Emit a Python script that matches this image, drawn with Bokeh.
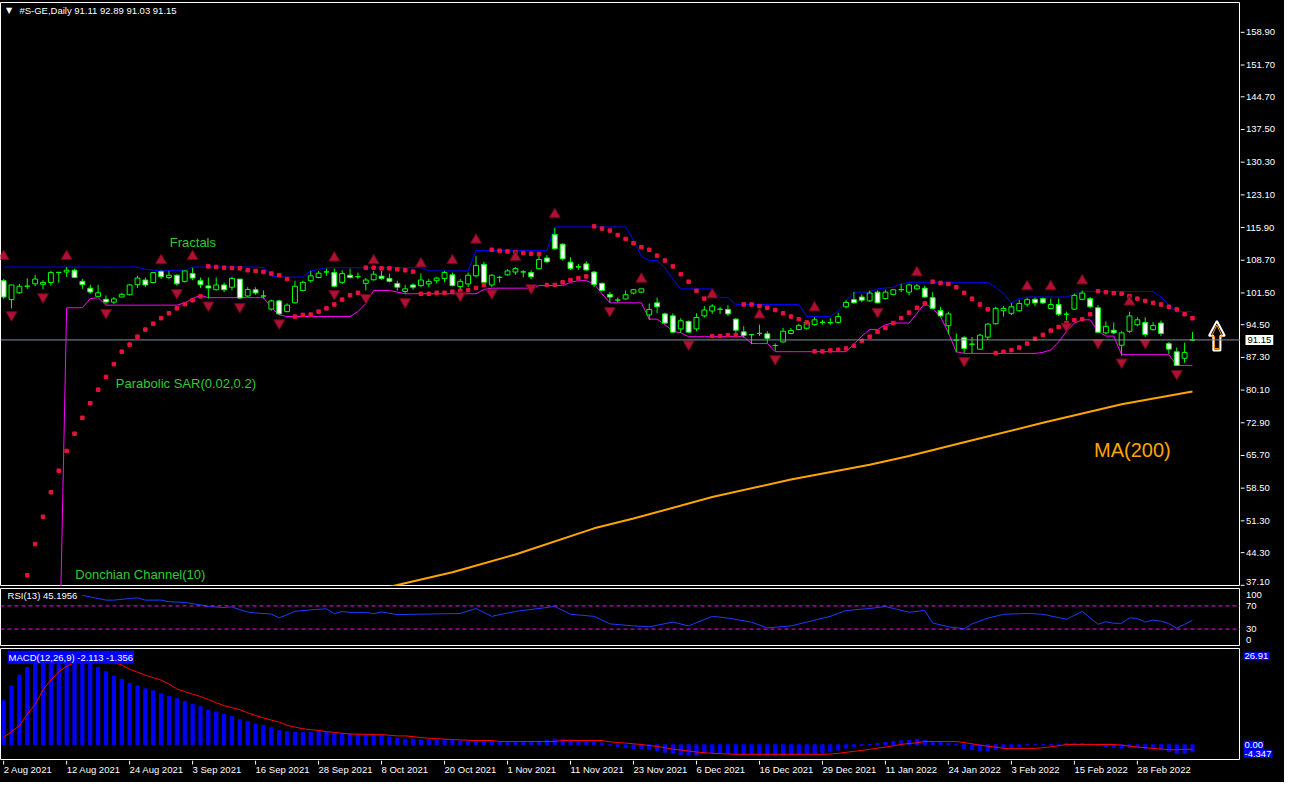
import numpy as np
from bokeh.plotting import figure
from bokeh.models import (ColumnDataSource, Range1d, Span, Label)
from bokeh.core.properties import value
from bokeh.layouts import column, row
from bokeh.embed import file_html
from bokeh.resources import INLINE

# ---------------- data ----------------
date_labels = ["2 Aug 2021", "12 Aug 2021", "24 Aug 2021", "3 Sep 2021", "16 Sep 2021",
               "28 Sep 2021", "8 Oct 2021", "20 Oct 2021", "1 Nov 2021", "11 Nov 2021",
               "23 Nov 2021", "6 Dec 2021", "16 Dec 2021", "29 Dec 2021", "11 Jan 2022",
               "24 Jan 2022", "3 Feb 2022", "15 Feb 2022", "28 Feb 2022"]
date_label_bars = [0, 8, 16, 24, 32, 40, 48, 56, 64, 72, 80, 88, 96, 104, 112, 120, 128, 136, 144]

price_ticks = [37.1, 44.3, 51.3, 58.5, 65.7, 72.9, 80.1, 87.3, 94.5, 101.5, 108.7,
               115.9, 123.1, 130.3, 137.5, 144.7, 151.7, 158.9]

opens = [104.2, 100.03, 101.54, 102.97, 103.5, 103.4, 103.8, 106.0, 106.1, 106.5,
         104.05, 102.55, 100.75, 100.1, 99.46, 100.6, 101.1, 103.33, 104.34, 103.8,
         106.2, 104.9, 105.4, 104.05, 105.77, 104.2, 103.05, 102.2, 103.26, 102.76,
         104.55, 100.82, 102.2, 100.8, 97.95, 99.75, 97.38, 99.32, 102.04, 104.2,
         104.9, 106.1, 105.99, 103.83, 105.4, 105.06, 103.6, 104.4, 105.2, 104.7,
         103.6, 101.83, 103.26, 103.12, 103.48, 104.2, 104.7, 105.48, 102.9, 103.48,
         105.27, 107.78, 103.26, 104.9, 105.48, 106.1, 106.1, 105.99, 106.85, 109.2,
         114.38, 112.23, 108.28, 107.28, 107.9, 106.1, 103.6, 101.18, 99.9, 100.18,
         101.47, 101.68, 96.66, 99.32, 96.88, 96.45, 93.58, 95.23, 93.58, 96.45,
         97.52, 97.88, 97.88, 95.73, 92.93, 92.3, 92.57, 92.5, 89.9, 90.71,
         92.57, 93.43, 93.72, 94.51, 95.01, 94.9, 95.01, 98.45, 100.03, 100.6,
         99.75, 101.68, 100.25, 101.18, 102.2, 101.68, 102.4, 102.55, 100.46, 97.6,
         94.28, 91.1, 91.63, 90.2, 89.12, 91.77, 94.71, 97.58, 97.01, 97.58,
         99.02, 100.1, 100.24, 98.09, 98.95, 96.8, 97.94, 100.1, 100.24, 98.23,
         92.7, 93.28, 89.98, 93.06, 94.5, 95.0, 93.42, 94.86, 90.33, 88.54,
         87.11, 91.11]
highs = [104.6, 103.26, 103.5, 104.7, 105.5, 104.3, 106.35, 106.1, 107.2, 106.85,
         104.55, 103.3, 103.26, 100.97, 100.6, 101.54, 103.5, 105.27, 104.9, 106.1,
         106.5, 106.35, 105.6, 106.35, 107.06, 104.9, 104.9, 104.9, 103.8, 105.05,
         104.55, 102.75, 102.75, 102.04, 100.0, 100.0, 99.2, 104.2, 104.2, 106.35,
         106.35, 106.85, 106.85, 106.5, 106.85, 105.99, 104.77, 106.35, 106.35, 105.77,
         104.2, 103.26, 103.6, 105.77, 104.55, 105.06, 106.35, 105.99, 104.55, 105.99,
         109.58, 108.35, 105.63, 105.27, 106.7, 107.2, 106.5, 106.5, 109.93, 109.8,
         115.8, 112.45, 109.35, 107.9, 108.5, 106.35, 103.83, 101.7, 100.46, 102.04,
         102.4, 102.4, 99.16, 100.46, 97.16, 97.02, 95.94, 95.44, 97.02, 98.6,
         99.03, 98.45, 98.81, 95.94, 94.15, 92.43, 94.5, 93.07, 90.4, 93.79,
         93.79, 94.72, 95.44, 96.16, 95.58, 95.94, 97.16, 99.9, 101.68, 101.18,
         102.04, 102.04, 102.2, 102.4, 103.48, 103.48, 103.48, 103.12, 101.68, 98.45,
         97.37, 92.6, 91.99, 91.77, 92.49, 94.86, 98.45, 98.59, 99.3, 100.0,
         100.45, 100.45, 100.45, 100.24, 100.24, 97.37, 101.32, 102.03, 100.6, 98.8,
         95.2, 95.0, 93.06, 97.37, 96.15, 96.15, 95.07, 95.43, 90.7, 89.47,
         90.55, 92.89]
lows = [100.2, 98.1, 101.3, 102.4, 103.0, 102.3, 103.1, 103.7, 105.0, 104.77,
        102.4, 101.3, 100.75, 99.03, 99.03, 100.6, 100.97, 102.6, 102.75, 103.6,
        104.55, 104.55, 103.1, 103.8, 104.34, 102.6, 100.25, 102.04, 101.7, 102.04,
        100.25, 100.6, 101.1, 100.25, 97.6, 96.66, 97.24, 99.2, 101.9, 103.8,
        104.7, 105.27, 102.76, 103.48, 104.7, 104.55, 102.04, 104.2, 104.4, 103.83,
        102.04, 101.3, 102.25, 102.76, 102.76, 103.6, 103.83, 102.9, 101.7, 102.76,
        104.9, 103.48, 102.76, 103.83, 105.27, 105.48, 104.9, 104.55, 106.7, 108.14,
        111.0, 108.64, 106.56, 106.56, 106.35, 102.76, 101.83, 99.39, 99.39, 100.0,
        101.18, 101.47, 95.58, 97.02, 94.72, 92.72, 92.72, 92.72, 93.07, 96.09,
        96.88, 96.88, 96.45, 92.72, 91.64, 90.2, 92.0, 90.4, 88.77, 90.56,
        92.36, 93.29, 93.43, 94.29, 94.51, 94.51, 94.72, 98.1, 99.18, 99.46,
        99.53, 99.18, 100.03, 100.96, 101.68, 100.96, 102.2, 100.46, 97.88, 96.16,
        92.38, 88.4, 88.26, 88.26, 88.97, 91.13, 94.5, 96.3, 96.65, 97.37,
        98.45, 98.59, 99.02, 97.87, 96.44, 95.43, 97.73, 99.88, 98.09, 92.7,
        92.35, 92.35, 87.68, 92.7, 94.14, 91.84, 93.2, 92.0, 88.04, 85.38,
        86.1, 91.03]
closes = [100.6, 103.26, 102.97, 103.0, 104.55, 103.8, 105.99, 106.05, 106.5, 104.9,
          103.33, 101.7, 101.54, 99.5, 100.18, 101.18, 103.26, 104.77, 103.26, 105.99,
          105.06, 105.4, 103.5, 106.35, 104.77, 103.33, 102.6, 103.26, 102.2, 104.7,
          100.39, 102.25, 101.5, 100.85, 99.75, 96.88, 98.81, 102.97, 103.83, 105.27,
          105.85, 106.15, 102.97, 105.77, 104.9, 105.1, 104.34, 105.63, 104.7, 104.05,
          102.76, 102.4, 102.76, 104.34, 104.05, 104.77, 105.99, 103.12, 104.05, 105.4,
          107.57, 103.83, 105.4, 104.95, 106.35, 106.85, 106.15, 105.06, 108.86, 108.35,
          111.23, 109.0, 106.85, 107.2, 106.56, 103.33, 102.04, 100.6, 99.95, 101.11,
          102.2, 102.4, 97.87, 98.45, 94.86, 92.86, 95.37, 92.86, 96.09, 97.74,
          98.6, 97.92, 96.88, 93.29, 92.14, 92.33, 92.6, 91.5, 89.93, 93.07,
          93.22, 94.29, 95.01, 95.58, 95.05, 94.95, 96.3, 99.39, 99.32, 99.9,
          101.47, 99.32, 101.68, 102.2, 102.25, 103.26, 103.05, 100.6, 98.1, 96.45,
          96.87, 91.13, 89.26, 90.23, 92.2, 94.64, 98.09, 98.09, 98.45, 99.16,
          100.02, 99.3, 99.3, 98.95, 96.8, 96.83, 100.96, 101.46, 98.45, 92.85,
          94.14, 92.7, 92.7, 96.44, 95.58, 92.35, 94.35, 92.56, 89.12, 85.53,
          88.4, 91.15]

# Parabolic SAR, first dot on bar 3
sar_first_bar = 3
sar = [39.3, 46.2, 52.2, 57.6, 62.35, 66.7, 70.5, 74.0, 77.2, 80.2, 83.0, 85.8,
       88.56, 90.13, 91.86, 93.43, 94.73, 95.95, 97.02, 98.1, 99.03, 99.89, 100.75,
       107.35, 107.21, 107.06, 106.99, 106.92, 106.49, 106.35, 106.13, 105.77, 105.41, 104.55,
       96.3, 96.66, 96.73, 97.38, 98.1, 98.96, 100.03, 100.97, 101.54,
       107.06, 107.06, 106.92, 106.92, 106.7, 106.49, 106.2,
       101.32, 101.32, 101.54, 101.54, 101.76, 101.97, 102.1, 102.6, 103.26,
       111.01, 110.8, 110.65, 110.44, 110.3, 110.15, 110.08,
       103.26, 103.26, 103.84, 104.34, 104.77, 105.13,
       116.17, 115.67, 115.24, 114.24, 113.38, 112.44, 111.58, 111.01, 109.72, 108.64,
       107.35, 105.63, 103.98, 101.97, 100.25,
       92.0, 92.0, 92.21, 92.21,
       98.96, 98.96, 98.6, 98.24, 97.74, 97.02, 96.3, 95.73, 95.01,
       88.63, 88.63, 88.84, 88.99, 89.27, 89.85, 90.92, 91.86, 92.93, 93.79, 94.87,
       95.95, 97.17, 98.24, 99.17,
       103.98, 103.69, 103.47, 102.75, 101.53, 100.24, 98.95, 97.87,
       88.26, 88.54, 88.9, 89.47, 90.34, 91.41, 92.27, 93.21, 94.0, 94.86, 95.5, 95.72, 96.8,
       101.89, 101.67, 101.46, 101.32, 100.81, 100.24, 99.74, 99.31, 98.95, 98.45, 97.87,
       96.8, 95.93]

# Donchian Channel(10)
don_upper = ([107.2] * 18 + [106.7] + [106.49] * 5 + [107.2] * 9 + [107.06] + [105.27]
             + [105.0] * 4 + [106.35] + [106.7] + [107.06] * 13 + [106.35] * 6 + [110.87] * 10
             + [116.03] * 10 + [113.16] + [109.57] + [108.64] * 2 + [107.06] + [104.55]
             + [102.4] * 5 + [100.46] * 2 + [98.96] * 9 + [96.3] * 4 + [97.6] + [99.75]
             + [101.68] * 3 + [102.4] + [102.6] + [102.75] + [103.48] + [103.84] * 11
             + [102.75] + [101.32] + [99.3] + [100.24] + [100.6] * 6 + [101.17]
             + [101.82] * 10 + [100.6] + [98.8] + [97.37] * 3)
don_lower = ([13.0] * 8 + [98.24] * 3 + [100.25] + [100.46] + [98.81] * 10 + [99.32] + [100.25]
             + [100.97] + [100.46] * 8 + [98.31] + [96.66] + [96.3] * 9 + [97.38] + [99.17]
             + [102.04] * 3 + [101.68] + [101.32] * 10 + [102.26] + [102.55] * 6 + [103.12] * 4
             + [103.84] + [104.2] * 2 + [103.48] + [101.32] + [99.32] * 5 + [95.73] * 2 + [94.51]
             + [93.07] + [92.72] + [91.86] * 8 + [90.35] * 3 + [88.56] * 10 + [90.2] + [92.0]
             + [93.43] * 2 + [94.51] + [94.87] * 3 + [97.02] + [99.17] + [98.1] + [96.3] + [92.7]
             + [88.54] + [88.18] * 10 + [88.4] + [88.97] + [90.7] + [93.06] + [94.86]
             + [95.58] * 2 + [93.06] + [91.99] * 2 + [87.9] * 7 + [85.53] * 3)

# Fractals (marker positions)
fractal_up_bars = [0, 8, 20, 24, 42, 47, 53, 57, 60, 65, 70, 81, 90, 96, 103, 116, 130, 133, 137, 143]
fractal_up_vals = [109.57, 109.57, 108.64, 109.57, 109.22, 108.64, 107.92, 108.64, 113.16, 109.36,
                   118.76, 104.55, 101.11, 96.66, 98.24, 105.99, 102.89, 102.89, 104.19, 99.52]
fractal_dn_bars = [1, 5, 13, 22, 26, 30, 35, 42, 46, 51, 58, 62, 67, 77, 87, 98, 111, 122, 135,
                   139, 142, 145, 149]
fractal_dn_vals = [96.66, 100.61, 97.17, 101.54, 98.81, 98.45, 94.87, 101.32, 100.46, 99.53,
                   100.97, 101.47, 102.62, 97.6, 90.21, 86.98, 97.38, 86.6, 94.14, 90.55,
                   86.25, 90.55, 83.73]

# MA(200)
ma_bars = [44, 50, 57, 65, 75, 80, 90, 100, 110, 115, 122, 132, 142, 151]
ma_vals = [34.8, 37.16, 39.96, 43.9, 49.65, 51.8, 56.54, 60.41, 63.65, 65.58, 68.6, 72.9, 77.0, 79.8]

# RSI(13)
rsi_bars = [10, 11, 13, 14, 16, 17, 18, 20, 21, 23, 25, 26, 28, 29, 30, 31, 32, 34, 35, 36, 37, 39,
            41, 42, 43, 44, 46, 47, 48, 50, 58, 60, 62, 65, 70, 72, 75, 77, 80, 82, 85, 87, 90,
            92, 95, 97, 100, 102, 105, 107, 110, 112, 115, 117, 118, 120, 122, 123, 125, 127,
            130, 132, 135, 137, 139, 140, 141, 142, 143, 144, 145, 146, 147, 148, 149, 150, 151]
rsi_vals = [88.3, 85.5, 80, 80, 82.7, 83.8, 80, 80, 77.2, 76, 71.6, 68.8, 67.2, 68.3, 63.3, 59.4,
            57.7, 56, 49.4, 55, 60.5, 63.3, 65, 56.6, 60.5, 58.8, 58.8, 56.6, 59.4, 55, 57,
            65.5, 52, 60.5, 69, 55.5, 52, 39, 35.5, 34, 42, 35.5, 52, 49, 42, 32, 35.5, 42, 52,
            62, 65.5, 69, 59, 62, 40.5, 34, 30.5, 39, 49, 55.5, 57, 55.5, 47, 60.5, 38.3, 42.7,
            40, 40, 49.4, 48.3, 42.2, 45.5, 43.8, 39.4, 31.6, 38.3, 45.2]
rsi_levels = [70, 30]
rsi_scale_labels = ["100", "70", "30", "0"]
rsi_scale_pos = [89.3, 70, 30, 11.7]

# MACD(12,26,9): main (histogram) and signal
macd_hist = [13.4, 17.9, 21.2, 23.5, 25.2, 25.9, 26.5, 26.91, 26.7, 26.3,
             25.8, 25.0, 23.5, 22.2, 20.9, 19.9, 18.7, 17.9, 17.0, 16.4,
             15.5, 14.7, 14.0, 13.2, 12.3, 11.6, 10.6, 10.0, 9.2, 8.6,
             7.6, 7.0, 6.2, 5.8, 5.2, 4.3, 4.0, 3.8, 3.8, 3.8,
             4.1, 4.0, 3.5, 3.4, 3.3, 3.2, 3.1, 3.2, 2.9, 2.4,
             2.0, 1.7, 1.7, 1.5, 1.5, 1.4, 1.3, 1.3, 1.2, 1.2,
             1.1, 1.1, 1.1, 0.9, 0.9, 0.9, 0.9, 1.0, 1.1, 1.4,
             1.7, 1.7, 1.5, 1.2, 1.1, 0.9, 0.5, -0.1, -0.5, -0.9,
             -1.1, -1.1, -1.5, -1.8, -2.3, -2.7, -3.0, -3.1, -3.3, -2.5,
             -2.5, -2.5, -2.6, -2.8, -3.0, -3.0, -3.3, -3.3, -3.3, -3.3,
             -3.1, -3.0, -2.8, -2.7, -2.5, -2.1, -1.6, -1.0, -0.5, -0.2,
             0.05, 0.4, 0.7, 1.0, 1.2, 1.3, 1.7, 1.3, 0.9, 0.7,
             0.5, 0.2, -1.1, -1.5, -1.8, -1.8, -1.5, -1.1, -0.8, -0.5,
             -0.1, 0.05, 0.05, 0.1, 0.2, 0.4, 0.5, 0.4, 0.2, -0.3,
             -0.7, -0.9, -1.0, -0.8, -0.7, -1.1, -1.1, -1.5, -2.0, -2.7,
             -2.7, -2.113]
macd_signal = [2.3, 4.0, 5.8, 9.3, 12.3, 16.7, 19.7, 22.2, 23.9, 25.0,
               25.7, 26.0, 26.0, 25.6, 25.0, 24.3, 23.0, 22.1, 21.2, 20.4,
               19.7, 18.5, 17.0, 16.2, 15.4, 14.7, 13.8, 12.8, 11.9, 11.3,
               10.7, 9.7, 8.9, 8.2, 7.5, 6.9, 5.9, 5.4, 4.9, 4.6,
               4.4, 4.0, 3.8, 3.5, 3.3, 3.2, 3.2, 3.1, 3.1, 2.9,
               2.7, 2.7, 2.5, 2.2, 2.0, 1.9, 1.7, 1.6, 1.5, 1.4,
               1.3, 1.3, 1.3, 1.0, 1.0, 1.0, 1.0, 1.0, 1.0, 1.0,
               1.0, 1.3, 1.3, 1.3, 1.3, 1.3, 1.3, 0.9, 0.7, 0.5,
               0.3, 0.1, -0.2, -0.5, -0.9, -1.3, -1.6, -1.9, -2.2, -2.4,
               -2.6, -2.7, -2.8, -2.9, -2.9, -2.9, -2.9, -2.9, -2.9, -2.9,
               -2.9, -2.9, -2.9, -2.9, -2.9, -2.8, -2.6, -2.3, -2.0, -1.7,
               -1.4, -1.0, -0.7, -0.3, 0.1, 0.4, 0.6, 1.0, 1.0, 1.0,
               1.0, 1.0, 0.7, 0.3, -0.1, -0.4, -0.7, -1.1, -1.1, -1.1,
               -1.1, -1.1, -0.9, -0.6, -0.3, 0.1, 0.1, 0.1, 0.1, 0.1,
               0.1, 0.1, -0.1, -0.4, -0.7, -0.9, -1.1, -1.3, -1.5, -1.5,
               -1.4, -1.356]
macd_scale_max = 26.91
macd_last_main = -2.113
macd_last_signal = -1.356

n = len(closes)
for arr in (opens, highs, lows, don_upper, don_lower, macd_hist, macd_signal):
    assert len(arr) == n, len(arr)
assert len(sar) == n - sar_first_bar

# ---------------- styling ----------------
FONT = "Liberation Sans"
FS = "9.5px"
GREEN_TXT = "#2ecc2e"
FW = 1240        # frame width of the chart panels
AW = 44          # width of the price-scale strip at the right
X0, X1 = -0.4, 157.1
xr = Range1d(X0, X1)


def panel(frame_h, yr):
    p = figure(frame_width=FW, frame_height=frame_h, x_range=xr, y_range=yr,
               output_backend="svg", toolbar_location=None,
               background_fill_color="black", border_fill_color="black",
               min_border_left=0, min_border_right=0, min_border_top=2, min_border_bottom=0,
               x_axis_location=None, y_axis_location=None)
    p.outline_line_color = "white"
    p.outline_line_width = 1
    p.grid.visible = False
    return p


def scale_strip(frame_h, yr):
    a = figure(frame_width=AW, frame_height=frame_h, x_range=Range1d(0, AW), y_range=yr,
               output_backend="svg", toolbar_location=None,
               background_fill_color="black", border_fill_color="black",
               min_border_left=0, min_border_right=0, min_border_top=2, min_border_bottom=0,
               x_axis_location=None, y_axis_location=None)
    a.outline_line_color = None
    a.grid.visible = False
    return a


def txt(p, xs, ys, labels, color="white", size=FS, align="left", baseline="middle"):
    p.text(x=xs, y=ys, text=labels, text_color=color, text_font=value(FONT),
           text_font_size=value(size), text_align=align, text_baseline=baseline)


# ---------------- main price panel ----------------
YMIN, YMAX = 36.84, 165.47
yr1 = Range1d(YMIN, YMAX)
p1 = panel(584, yr1)

x = list(range(n))
p1.add_layout(Span(location=closes[-1], dimension="width", line_color="#8190a0", line_width=1))

p1.line(x, don_upper, line_color="#0000ff", line_width=1)
p1.line(x, don_lower, line_color="#ff00ff", line_width=1)
p1.line(ma_bars, ma_vals, line_color="#ffa500", line_width=2)

top = [max(o, c) for o, c in zip(opens, closes)]
bot = [min(o, c) for o, c in zip(opens, closes)]
fill = ["white" if c < o else "black" for o, c in zip(opens, closes)]
cs = ColumnDataSource(dict(x=x, top=top, bot=bot, hi=highs, lo=lows, fill=fill))
p1.segment(x0="x", y0="lo", x1="x", y1="hi", source=cs, line_color="#00ff00", line_width=1)
p1.vbar(x="x", width=0.62, top="top", bottom="bot", source=cs, fill_color="fill",
        line_color="#00ff00", line_width=1)

sar_x = list(range(sar_first_bar, n))
p1.scatter(sar_x, sar, marker="square", size=3.5, fill_color="#e8123c", line_color="#e8123c")

p1.scatter(fractal_up_bars, fractal_up_vals, marker="triangle", size=11,
           fill_color="#b01034", line_color="#6a0a1a")
p1.scatter(fractal_dn_bars, fractal_dn_vals, marker="inverted_triangle", size=11,
           fill_color="#b01034", line_color="#6a0a1a")

# hollow up arrow near the right edge
cx = 154.1
arr_x = [cx, cx + 1.0, cx + 0.45, cx + 0.45, cx - 0.45, cx - 0.45, cx - 1.0]
arr_y = [95.3, 92.06, 92.06, 88.83, 88.83, 92.06, 92.06]
p1.patch(arr_x, arr_y, fill_color="black", line_color="white", line_width=2)
p1.patch([cx + (a - cx) * 0.7 for a in arr_x], [91.0 + (b - 91.0) * 0.8 for b in arr_y],
         fill_alpha=0, line_color="#ff9900", line_width=1)

# texts in the panel
p1.add_layout(Label(x=0.3, y=163.6, text="▼", text_color="white", text_font="DejaVu Sans",
                    text_font_size="8px", text_baseline="middle"))
p1.add_layout(Label(x=2.0, y=163.6, text="#S-GE,Daily  91.11 92.89 91.03 91.15",
                    text_color="white", text_font=FONT, text_font_size=FS, text_baseline="middle"))
p1.add_layout(Label(x=21.1, y=112.5, text="Fractals", text_color=GREEN_TXT, text_font=FONT,
                    text_font_size="13px", text_baseline="middle"))
p1.add_layout(Label(x=14.25, y=81.55, text="Parabolic SAR(0.02,0.2)", text_color=GREEN_TXT,
                    text_font=FONT, text_font_size="13px", text_baseline="middle"))
p1.add_layout(Label(x=9.1, y=39.53, text="Donchian Channel(10)", text_color=GREEN_TXT,
                    text_font=FONT, text_font_size="13px", text_baseline="middle"))
p1.add_layout(Label(x=138.5, y=66.9, text="MA(200)", text_color="#ffa500", text_font=FONT,
                    text_font_size="20px", text_baseline="middle"))

# price scale strip
a1 = scale_strip(584, yr1)
a1.segment(x0=[0] * len(price_ticks), y0=price_ticks, x1=[4] * len(price_ticks), y1=price_ticks,
           line_color="white", line_width=1)
txt(a1, [5.5] * (len(price_ticks) - 1), price_ticks[1:], ["%.2f" % t for t in price_ticks[1:]])
txt(a1, [5.5], price_ticks[:1], ["%.2f" % price_ticks[0]], baseline="bottom")
a1.add_layout(Label(x=5, y=closes[-1], text="%.2f" % closes[-1], text_color="black",
                    background_fill_color="white", text_font=FONT, text_font_size=FS,
                    text_baseline="middle", padding=2))

# ---------------- RSI panel ----------------
yr2 = Range1d(0, 100)
p2 = panel(58, yr2)
for lvl in rsi_levels:
    p2.add_layout(Span(location=lvl, dimension="width", line_color="#ff00ff",
                       line_dash="4 3", line_width=1))
p2.line(rsi_bars, rsi_vals, line_color="#1c3cff", line_width=1)
p2.add_layout(Label(x=0.5, y=87.2, text="RSI(13) 45.1956", text_color="white", text_font=FONT,
                    text_font_size=FS, text_baseline="middle"))
a2 = scale_strip(58, yr2)
txt(a2, [5.5] * 4, rsi_scale_pos, rsi_scale_labels)

# ---------------- MACD panel ----------------
MMIN, MMAX = -4.78, 29.3
yr3 = Range1d(MMIN, MMAX)
p3 = panel(112, yr3)
p3.vbar(x=x, width=0.4, top=macd_hist, bottom=0, fill_color="#0000ff", line_color="#0000ff")
p3.line(x, macd_signal, line_color="#ff0000", line_width=1)
p3.add_layout(Label(x=0.5, y=26.6, text="MACD(12,26,9) %.3f %.3f" % (macd_last_main, macd_last_signal),
                    text_color="white", background_fill_color="#0000ff", text_font=FONT,
                    text_font_size=FS, text_baseline="middle", padding=1))
a3 = scale_strip(112, yr3)
for val, label in ((macd_scale_max, "%.2f" % macd_scale_max), (0.0, "0.00"), (-2.75, "-4.347")):
    a3.add_layout(Label(x=3, y=val, text=label, text_color="white",
                        background_fill_color="#0000ff", text_font=FONT, text_font_size=FS,
                        text_baseline="middle", padding=1))

# ---------------- time scale ----------------
d = figure(frame_width=FW, frame_height=22, x_range=xr, y_range=Range1d(0, 22),
           output_backend="svg", toolbar_location=None,
           background_fill_color="black", border_fill_color="black",
           min_border_left=0, min_border_right=0, min_border_top=0, min_border_bottom=0,
           x_axis_location=None, y_axis_location=None)
d.outline_line_color = None
d.grid.visible = False
d.segment(x0=date_label_bars, y0=[22] * len(date_label_bars), x1=date_label_bars,
          y1=[18] * len(date_label_bars), line_color="white", line_width=1)
txt(d, date_label_bars, [13] * len(date_label_bars), date_labels)

layout = column(row(p1, a1, spacing=0), row(p2, a2, spacing=0), row(p3, a3, spacing=0), d,
                spacing=0, styles={"background-color": "black"})
open("out.html", "w").write(file_html(layout, INLINE))
